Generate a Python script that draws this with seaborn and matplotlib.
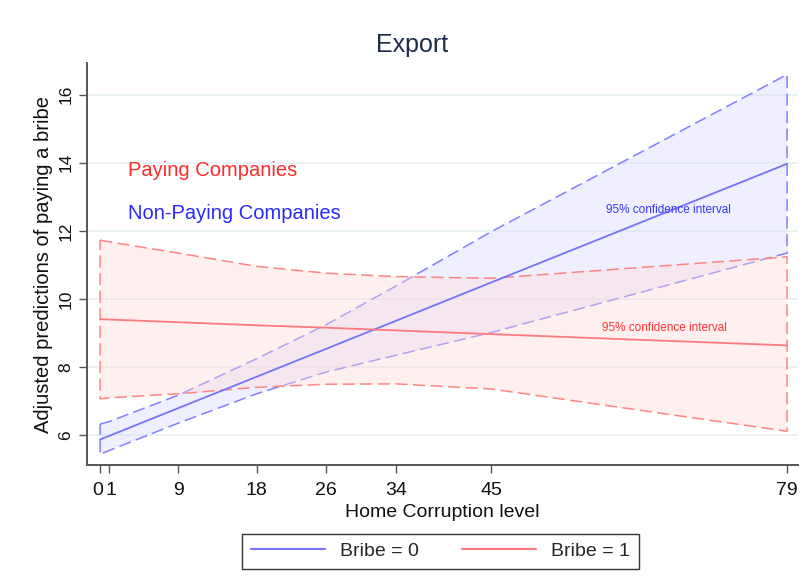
import numpy as np
import pandas as pd
import seaborn as sns
import matplotlib
matplotlib.use("Agg")
import matplotlib.pyplot as plt
from matplotlib.transforms import ScaledTranslation

# Home corruption levels at which predictions were evaluated
corruption = [0, 1, 9, 18, 26, 34, 45, 79]
tick_labels = ["0", "1", "9", "18", "26", "34", "45", "79"]

# Bribe = 0 (non-paying companies): prediction and 95% CI
nonpay_mean = [5.88, 5.98, 6.80, 7.72, 8.54, 9.36, 10.49, 13.97]
nonpay_upper = [6.33, 6.40, 7.18, 8.25, 9.25, 10.38, 11.98, 16.59]
nonpay_lower = [5.44, 5.55, 6.36, 7.22, 7.86, 8.35, 9.02, 11.35]

# Bribe = 1 (paying companies): prediction and 95% CI
pay_mean = [9.41, 9.40, 9.32, 9.23, 9.16, 9.08, 8.97, 8.64]
pay_upper = [11.73, 11.68, 11.35, 10.96, 10.76, 10.66, 10.61, 11.24]
pay_lower = [7.07, 7.10, 7.22, 7.41, 7.50, 7.51, 7.36, 6.12]

groups = ["Bribe = 0", "Bribe = 1"]
y_ticks = [6, 8, 10, 12, 14, 16]

sns.set_style("white")
plt.rcParams["font.family"] = ["Liberation Sans", "DejaVu Sans"]

BLUE_LINE = "#7474f6"
BLUE_DASH = "#8080ff"
RED_LINE = "#ff7a80"
RED_DASH = "#ff8585"

df = pd.DataFrame({
    "corruption": corruption * 2,
    "pred": nonpay_mean + pay_mean,
    "group": [groups[0]] * len(corruption) + [groups[1]] * len(corruption),
})

fig = plt.figure(figsize=(8.07, 5.86), dpi=100)
ax = fig.add_axes([0.108, 0.2065, 0.881, 0.6855])

x = np.array(corruption, dtype=float)
dash = (0, (8, 3.5))

def band(lower, upper, face, edge, zf, ze):
    xs = np.concatenate([x, x[::-1], x[:1]])
    ys = np.concatenate([np.array(upper), np.array(lower)[::-1], np.array(upper)[:1]])
    ax.fill(xs, ys, facecolor=face, edgecolor="none", zorder=zf)
    ax.plot(xs, ys, color=edge, lw=1.1, linestyle=dash, zorder=ze)

band(nonpay_lower, nonpay_upper, (0.85, 0.85, 1.0, 0.4), BLUE_DASH, 2, 2.5)
band(pay_lower, pay_upper, (1.0, 0.85, 0.85, 0.4), RED_DASH, 3, 3.5)

sns.lineplot(data=df, x="corruption", y="pred", hue="group",
             palette=[BLUE_LINE, RED_LINE], linewidth=1.3, ax=ax,
             legend=False, zorder=5)

ax.set_xlim(-1.49, 80.27)
ax.set_ylim(5.13, 16.92)
ax.set_xticks(corruption)
ax.set_xticklabels(tick_labels, fontsize=14)
ax.set_yticks(y_ticks)
ax.set_yticklabels([str(v) for v in y_ticks], fontsize=12.5, rotation=90, va="center")
ax.tick_params(axis="both", direction="out", length=6, width=1, color="#555555",
               labelcolor="#111111", bottom=True, left=True)
ax.tick_params(axis="x", pad=6)
ax.tick_params(axis="y", pad=4)
ax.yaxis.grid(True, color="#e9f1f3", lw=1.3)
ax.xaxis.grid(False)
ax.set_axisbelow(True)
for s in ["top", "right"]:
    ax.spines[s].set_visible(False)
for s in ["left", "bottom"]:
    ax.spines[s].set_color("#555555")
    ax.spines[s].set_linewidth(1.4)

# nudge the two crowded labels at 0 and 1 apart slightly
xt = ax.get_xticklabels()
xt[0].set_transform(xt[0].get_transform() + ScaledTranslation(-2 / 72, 0, fig.dpi_scale_trans))
xt[1].set_transform(xt[1].get_transform() + ScaledTranslation(1.5 / 72, 0, fig.dpi_scale_trans))

ax.set_xlabel("Home Corruption level", fontsize=14, labelpad=4, color="#111111")
ax.set_ylabel("Adjusted predictions of paying a bribe", fontsize=14.5, labelpad=4,
              color="#111111")

ax.text(3.2, 13.78, "Paying Companies", color="#ff2a2a", fontsize=14.5,
        va="center", ha="left", zorder=6)
ax.text(3.2, 12.52, "Non-Paying Companies", color="#2a2aff", fontsize=14.5,
        va="center", ha="left", zorder=6)
ax.text(65.4, 12.61, "95% confidence interval", color="#3535ff", fontsize=8.5,
        va="center", ha="center", zorder=6)
ax.text(64.9, 9.15, "95% confidence interval", color="#ff3535", fontsize=8.5,
        va="center", ha="center", zorder=6)

fig.text(412 / 807, 1 - 45 / 586, "Export", fontsize=18, color="#1e2b4a",
         ha="center", va="center")

handles = [plt.Line2D([], [], color=BLUE_LINE, lw=1.5),
           plt.Line2D([], [], color=RED_LINE, lw=1.5)]
leg = fig.legend(handles, groups, loc="center", bbox_to_anchor=(0.546, 0.059),
                 ncol=2, fontsize=14, frameon=True, fancybox=False,
                 handlelength=3.8, columnspacing=2.2, handletextpad=0.8,
                 borderpad=0.45)
leg.get_frame().set_edgecolor("#000000")
leg.get_frame().set_linewidth(1.0)

fig.savefig("out.png", dpi=100, facecolor="white")
